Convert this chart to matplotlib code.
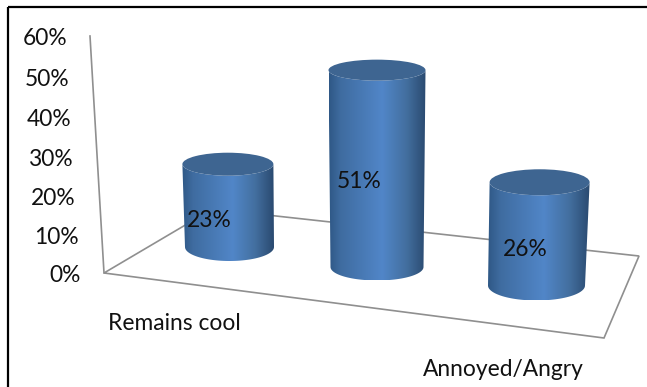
import numpy as np
import matplotlib
matplotlib.use('Agg')
import matplotlib.pyplot as plt
from matplotlib.colors import LinearSegmentedColormap
from matplotlib.patches import Ellipse, PathPatch
from matplotlib.path import Path

# Chart data
categories = ['Remains cool', '', 'Annoyed/Angry']
values = [23, 51, 26]
y_ticks = [0, 10, 20, 30, 40, 50, 60]

# Perspective layout of each column, in pixels
BASE_X = [229.5, 377, 536.5]
BASE_Y = [247, 267, 285.5]
PX_PER_PCT = [3.6, 3.86, 3.97]
LEAN_PER_PCT = [-0.07, 0.0, 0.12]
BASE_RX = [44.5, 46.5, 48.5]
TOP_RX = [45.5, 48.5, 50]
BASE_RY = [14, 13.5, 15]
TOP_RY = [11.5, 10.5, 13]
LABEL_DX = [-20, -18, -11]
LABEL_DY = [15, 13, 16]
CAT_LABEL_XY = [(174.5, 324), (None, None), (503, 369)]

# Colours
AXIS_COLOUR = '#8f8f8f'
TOP_COLOUR = '#3e6591'
TEXT_COLOUR = '#111111'
body_cmap = LinearSegmentedColormap.from_list(
    'body', [(0, '#2f5886'), (0.12, '#3f6ca0'), (0.55, '#5186c8'), (0.8, '#436f9f'), (1, '#2a4a70')])

FONT = 'Lato'
FONT_SIZE = 16.4
W, H = 647, 387


def half_arc(cx, cy, rx, ry, start, stop, n=60):
    t = np.linspace(start, stop, n)
    return np.column_stack([cx + rx * np.cos(t), cy + ry * np.sin(t)])


def draw_cylinder(ax, i, value):
    bx, by = BASE_X[i], BASE_Y[i]
    tx = bx + LEAN_PER_PCT[i] * value
    ty = by - PX_PER_PCT[i] * value

    # body outline: down the left side, round the front of the base, up the right side
    bottom = half_arc(bx, by, BASE_RX[i], BASE_RY[i], np.pi, 0)
    top = half_arc(tx, ty, TOP_RX[i], TOP_RY[i], 0, np.pi)
    pts = np.vstack([bottom, top, bottom[:1]])
    codes = [Path.MOVETO] + [Path.LINETO] * (len(pts) - 2) + [Path.CLOSEPOLY]
    outline = PathPatch(Path(pts, codes), transform=ax.transData, facecolor='none', edgecolor='none')
    ax.add_patch(outline)

    left = min(bx - BASE_RX[i], tx - TOP_RX[i])
    right = max(bx + BASE_RX[i], tx + TOP_RX[i])
    grad = np.linspace(0, 1, 256).reshape(1, -1)
    img = ax.imshow(grad, cmap=body_cmap, extent=[left, right, by + BASE_RY[i], ty - TOP_RY[i]],
                    aspect='auto', zorder=2, interpolation='bilinear')
    img.set_clip_path(outline)

    ax.add_patch(Ellipse((tx, ty), 2 * TOP_RX[i], 2 * TOP_RY[i], facecolor=TOP_COLOUR,
                         edgecolor='none', zorder=3))

    ax.text(bx + LABEL_DX[i], (by + ty) / 2 + LABEL_DY[i], f'{value}%', ha='center', va='center',
            fontsize=FONT_SIZE, family=FONT, color=TEXT_COLOUR, zorder=4)


fig = plt.figure(figsize=(W / 100, H / 100), dpi=100)
ax = fig.add_axes([0, 0, 1, 1])

# Outer frame: only top and left sides show
ax.plot([7.5, W], [7, 7], color='black', lw=1.6, solid_capstyle='butt', zorder=1)
ax.plot([7.5, 7.5], [7, H], color='black', lw=1.6, solid_capstyle='butt', zorder=1)

# Wall edge and floor outline
ax.plot([90, 104], [36, 273], color=AXIS_COLOUR, lw=1.2, zorder=1)
ax.plot([212.5, 104, 604, 639, 212.5], [209, 273, 338, 256, 209], color=AXIS_COLOUR, lw=1.2,
        solid_joinstyle='miter', zorder=1)

for i, v in enumerate(values):
    draw_cylinder(ax, i, v)

# Value axis labels follow the slanted wall edge, spacing grows slightly with height
for t in y_ticks:
    ax.text(80.5 - 0.225 * t, 275.5 - 3.8 * t - 0.0025 * t ** 2, f'{t}%', ha='right', va='center',
            fontsize=FONT_SIZE, family=FONT, color=TEXT_COLOUR)

for name, (x, y) in zip(categories, CAT_LABEL_XY):
    if name:
        ax.text(x, y, name, ha='center', va='center', fontsize=FONT_SIZE, family=FONT, color=TEXT_COLOUR)

ax.set_xlim(0, W)
ax.set_ylim(H, 0)
ax.axis('off')
fig.savefig('out.png', dpi=100, facecolor='white')
